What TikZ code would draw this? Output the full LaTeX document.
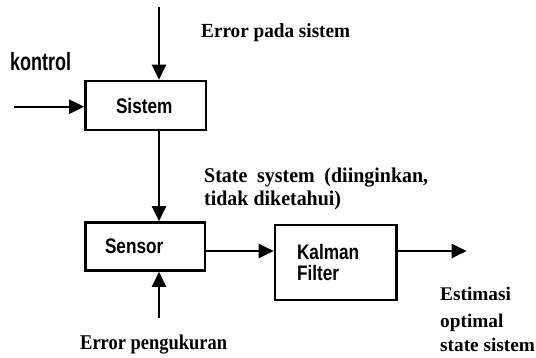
\documentclass[tikz,border=0pt]{standalone}
\usepackage{fontspec}
\setmainfont{Liberation Serif}
\setsansfont{Liberation Sans}
\newfontfamily\sansn[FakeStretch=0.82]{Liberation Sans}
\newfontfamily\sansk[FakeStretch=0.72]{Liberation Sans}
\newfontfamily\serifa[FakeStretch=0.96]{Liberation Serif}
\newfontfamily\serifb[FakeStretch=0.95]{Liberation Serif}
\newfontfamily\serifc[FakeStretch=0.88]{Liberation Serif}
\usetikzlibrary{arrows.meta}
\begin{document}
\begin{tikzpicture}[x=1pt,y=-1pt,
  box/.style={draw, line width=2.6pt, rectangle, align=left, inner ysep=0pt,
    font=\sansn\bfseries\fontsize{21}{21.5}\selectfont},
  arr/.style={line width=2.2pt, -{Triangle[length=15pt,width=14pt]}},
  lbl/.style={anchor=base west, inner sep=0pt}]
\useasboundingbox[fill=white] (0,0) rectangle (536,358);

% boxes
\node[box, minimum width=120.5pt, minimum height=49pt, inner xsep=30.5pt, text width=59.5pt] (sistem) at (145.75,105.5) {Sistem};
\node[box, minimum width=119.5pt, minimum height=48pt, inner xsep=19.5pt, text width=80.5pt] (sensor) at (145.25,246.5) {Sensor};
\node[box, minimum width=121.6pt, minimum height=75pt, inner xsep=22pt, text width=77.6pt] (kalman) at (335.8,262.5) {Kalman\\Filter};

% helper coordinates
\coordinate (vx) at (159,0);
\coordinate (hy) at (0,251);
\coordinate (topin) at (159,7);
\coordinate (leftin) at (13.7,106.7);
\coordinate (botin) at (159,318);
\coordinate (outend) at (466.7,251);

% connectors
\draw[arr] (topin) -- (topin |- sistem.north);
\draw[arr] (leftin) -- (leftin -| sistem.west);
\draw[arr] (sistem.south -| vx) -- (sensor.north -| vx);
\draw[arr] (botin) -- (botin |- sensor.south);
\draw[arr] (sensor.east |- hy) -- (kalman.west |- hy);
\draw[arr] (kalman.east |- hy) -- (outend);

% labels
\node[lbl, font=\sansk\bfseries\fontsize{25}{26}\selectfont] (kontrol) at (10,71) {kontrol};
\node[lbl, font=\serifa\bfseries\fontsize{20}{23}\selectfont] (errsys) at (201,38) {Error pada sistem};
\node[lbl, font=\serifb\bfseries\fontsize{21}{23}\selectfont] (state1) at (204,183) {\makebox[224pt][s]{State system (diinginkan,}};
\node[lbl, font=\serifb\bfseries\fontsize{21}{23}\selectfont] (state2) at (204,206) {tidak diketahui)};
\node[lbl, font=\serifc\bfseries\fontsize{21}{22}\selectfont] (errmeas) at (80,350) {Error pengukuran};
\node[lbl, font=\rmfamily\bfseries\fontsize{19.3}{23}\selectfont] (est1) at (440,301) {Estimasi};
\node[lbl, font=\rmfamily\bfseries\fontsize{19.3}{23}\selectfont] (est2) at (440,327) {optimal};
\node[lbl, font=\rmfamily\bfseries\fontsize{19.3}{23}\selectfont] (est3) at (440,352) {state sistem};
\end{tikzpicture}
\end{document}
